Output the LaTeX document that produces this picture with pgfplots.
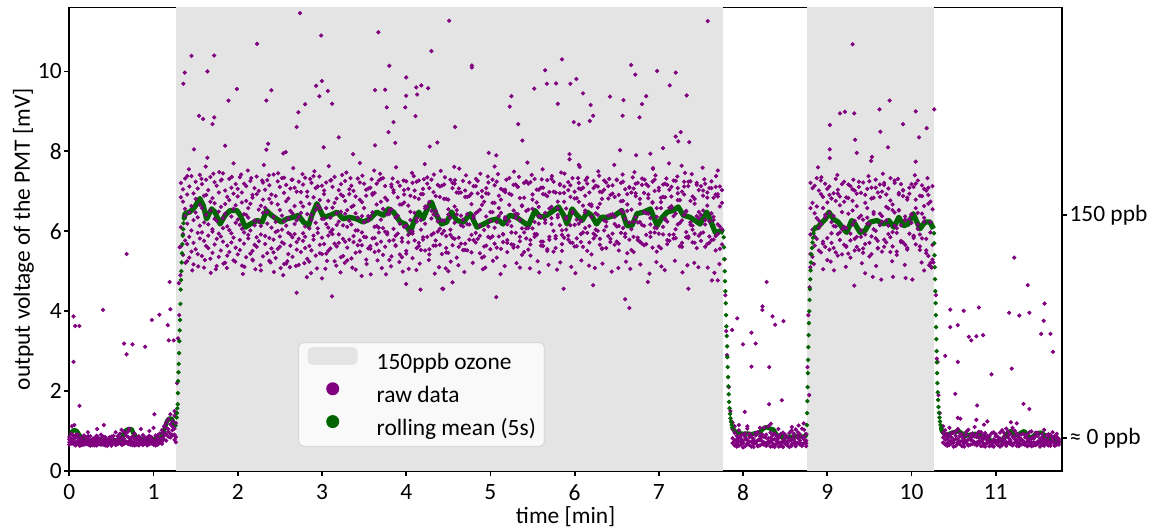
\documentclass[border=0pt]{standalone}
\usepackage{fontspec}
\setmainfont{Carlito}
\setsansfont{Carlito}
\usepackage{pgfplots}
\usepackage{pgfplotstable}
\pgfplotsset{compat=1.18}
\definecolor{rawcol}{RGB}{128,0,128}
\definecolor{meancol}{RGB}{0,100,0}
\definecolor{shadecol}{RGB}{228,228,228}
\newcommand{\chartfont}{\fontsize{11.7bp}{14bp}\selectfont}

\pgfplotstableread{
x a b c d
0.0 0.72 0.85 0.66 0.79
0.025 0.81 0.69 0.93 0.74
0.05 0.67 0.77 0.71 0.88
0.075 0.90 0.64 0.83 0.70
0.1 0.75 0.86 0.68 0.92
0.125 0.63 0.73 0.80 0.69
0.15 0.84 0.70 0.65 0.77
0.175 0.71 0.89 0.74 0.66
0.2 0.78 0.67 0.85 0.72
0.225 0.66 0.80 0.70 0.87
0.25 0.87 0.74 0.63 0.76
0.275 0.70 0.65 0.79 0.68
0.3 0.76 0.83 0.72 0.64
0.325 0.64 0.71 0.88 0.79
0.35 0.82 0.68 0.67 0.73
0.375 0.69 0.91 0.75 0.66
0.4 0.74 0.66 0.81 0.86
0.425 0.85 0.78 0.64 0.71
0.45 0.67 0.70 0.77 0.63
0.475 0.79 0.84 0.69 0.75
0.5 0.72 0.63 0.86 0.68
0.525 0.88 0.76 0.71 0.80
0.55 0.65 0.69 0.66 0.74
0.575 0.77 0.87 0.79 0.67
0.6 0.70 0.72 0.93 0.82
0.625 0.83 0.65 0.68 0.71
0.65 0.68 0.81 0.76 0.98
0.675 0.95 0.74 0.89 0.70
0.7 0.73 0.99 0.67 0.85
0.725 0.66 0.78 0.82 0.73
0.75 0.86 0.70 0.72 0.65
0.775 0.71 0.64 0.94 0.79
0.8 0.79 0.83 0.66 0.70
0.825 0.64 0.71 0.78 0.87
0.85 0.81 0.67 0.70 0.74
0.875 0.75 0.90 0.65 0.68
0.9 0.69 0.73 0.84 0.77
0.925 0.84 0.66 0.71 0.64
0.95 0.67 0.79 0.88 0.72
0.975 0.78 0.85 0.69 0.81
1.0 0.72 0.68 0.75 0.66
1.025 0.89 0.77 0.64 0.73
1.05 0.66 0.71 0.82 0.90
1.075 0.80 0.94 0.70 0.76
1.1 0.73 0.82 1.02 0.68
1.125 0.95 0.88 0.79 1.12
1.15 1.08 0.76 1.21 0.92
1.175 0.86 1.30 0.98 1.05
1.2 1.17 0.93 1.42 0.84
1.225 1.02 1.25 0.89 1.11
1.25 0.91 1.38 1.06 0.78
1.265 1.20 0.85 1.45 0.72
1.325 6.85 5.62 7.21 6.10
1.35 5.93 6.74 5.41 7.05
1.375 6.38 7.32 5.77 6.56
1.4 5.25 6.19 6.92 5.68
1.425 7.12 5.86 6.47 5.34
1.45 6.63 5.49 7.38 6.02
1.475 5.71 6.95 6.28 5.17
1.5 6.47 7.24 5.55 6.81
1.525 5.96 6.35 7.07 5.43
1.55 7.41 5.82 6.66 6.14
1.575 5.38 6.58 5.97 7.18
1.6 6.22 5.09 6.89 5.76
1.625 6.91 6.41 5.63 7.29
1.65 5.58 7.03 6.17 5.89
1.675 6.74 5.31 6.52 7.36
1.7 6.05 6.83 5.46 5.99
1.725 7.23 5.67 6.31 6.70
1.75 5.13 6.26 7.14 5.81
1.775 6.49 5.94 5.36 6.97
1.8 5.87 7.27 6.61 5.52
1.825 6.33 5.74 7.45 6.08
1.85 7.02 6.44 5.21 6.68
1.875 5.64 6.12 6.86 5.39
1.9 6.78 5.48 6.03 7.31
1.925 5.95 7.09 5.72 6.37
1.95 6.56 5.27 6.94 5.84
1.975 7.18 6.65 5.59 6.21
2.0 5.42 6.87 6.29 7.06
2.025 6.16 5.78 7.35 5.53
2.05 6.97 6.06 5.14 6.72
2.075 5.69 7.19 6.43 5.97
2.1 6.41 5.35 6.76 7.13
2.125 5.82 6.58 5.91 6.34
2.15 7.26 6.02 6.69 5.44
2.175 5.51 6.91 5.29 6.84
2.2 6.27 5.66 7.08 6.15
2.225 6.93 7.37 5.85 5.61
2.25 5.75 6.24 6.54 7.01
2.275 6.64 5.02 6.13 5.92
2.3 5.37 6.79 7.22 6.46
2.325 7.04 5.88 5.68 6.59
2.35 6.19 6.48 5.45 7.28
2.375 5.83 7.15 6.81 5.26
2.4 6.71 5.57 6.09 6.92
2.425 5.47 6.36 7.42 5.79
2.45 6.88 5.98 5.33 6.23
2.475 6.01 7.25 6.67 5.56
2.5 5.61 6.53 5.87 7.11
2.525 7.33 5.72 6.39 6.04
2.55 6.25 6.96 5.18 5.69
2.575 5.19 6.14 6.75 7.16
2.6 6.82 5.43 6.32 5.96
2.625 5.92 7.07 5.64 6.51
2.65 6.45 5.85 7.29 5.36
2.675 7.09 6.63 5.93 6.18
2.7 5.54 6.27 6.99 5.73
2.725 6.36 5.16 5.81 7.24
2.75 6.98 6.72 6.46 5.48
2.775 5.76 5.95 7.17 6.62
2.8 6.12 7.34 5.58 5.86
2.825 5.31 6.43 6.87 6.99
2.85 6.69 5.63 6.07 5.24
2.875 7.21 6.29 5.52 6.41
2.9 5.89 6.85 7.38 5.79
2.925 6.53 5.39 6.21 7.08
2.95 6.07 7.12 5.96 6.64
2.975 5.66 6.57 6.78 5.45
3.0 7.14 5.84 5.43 6.31
3.025 6.31 6.93 7.02 5.68
3.05 5.44 6.18 6.58 7.22
3.075 6.76 5.51 5.89 6.09
3.1 5.98 7.27 6.34 5.57
3.125 6.59 6.04 7.11 5.93
3.15 7.36 5.69 5.25 6.71
3.175 5.62 6.45 6.82 6.16
3.2 6.24 5.92 5.71 7.03
3.225 6.92 7.18 6.49 5.35
3.25 5.81 5.38 6.15 6.88
3.275 6.44 6.76 7.26 5.74
3.3 5.27 6.11 5.59 6.53
3.325 7.05 5.79 6.93 6.26
3.35 6.17 6.61 5.32 7.14
3.375 5.73 7.01 6.64 5.88
3.4 6.87 5.46 6.02 6.45
3.425 6.02 6.34 7.32 5.65
3.45 5.49 7.22 5.77 6.79
3.475 6.73 5.65 6.38 5.97
3.5 7.19 6.23 5.86 6.58
3.525 5.85 6.89 7.04 5.29
3.55 6.38 5.57 6.27 7.07
3.575 5.56 7.09 5.63 6.37
3.6 6.95 6.47 6.91 5.82
3.625 6.11 5.83 5.48 6.96
3.65 5.68 6.67 7.19 6.13
3.675 7.27 5.97 6.09 5.51
3.7 6.29 7.31 5.74 6.74
3.725 5.41 6.08 6.56 7.33
3.75 6.84 5.61 7.13 5.99
3.775 5.97 6.78 5.92 6.42
3.8 6.52 5.28 6.43 5.76
3.825 7.11 6.55 5.37 7.17
3.85 5.78 7.03 6.97 6.06
3.875 6.34 5.89 5.65 5.63
3.9 5.94 6.39 7.23 6.85
3.925 6.67 7.14 6.19 5.42
3.95 5.35 5.74 5.83 6.67
3.975 7.03 6.92 6.72 6.11
4.0 6.14 5.44 5.51 7.25
4.025 5.72 6.64 7.06 5.91
4.05 6.89 6.01 6.28 6.49
4.075 5.99 7.21 5.94 5.33
4.1 6.46 5.77 6.85 7.02
4.125 7.24 6.32 5.58 6.24
4.15 5.63 6.81 7.27 5.71
4.175 6.28 5.53 6.04 6.93
4.2 6.93 7.06 5.79 5.85
4.225 5.52 6.19 6.62 6.57
4.25 6.61 5.86 7.35 7.19
4.275 7.08 6.73 5.42 5.55
4.3 5.91 7.29 6.51 6.32
4.325 6.42 5.64 5.95 6.98
4.35 5.77 6.51 6.88 5.64
4.375 7.16 5.99 6.25 6.39
4.4 6.06 6.86 5.66 7.12
4.425 5.43 6.27 7.14 5.94
4.45 6.81 7.17 6.01 6.27
4.475 5.88 5.58 5.47 6.81
4.5 6.55 6.42 6.79 5.46
4.525 7.29 5.91 6.33 6.04
4.55 5.65 7.08 5.84 7.21
4.575 6.21 6.62 7.19 5.81
4.6 6.97 5.34 6.42 6.53
4.625 5.84 6.96 5.61 7.07
4.65 6.39 6.15 6.97 5.69
4.675 5.53 7.26 6.12 6.29
4.7 7.02 5.69 5.53 6.86
4.725 6.18 6.43 6.86 5.52
4.75 5.79 6.88 7.22 6.17
4.775 6.68 5.47 5.91 6.94
4.8 7.13 6.33 6.38 5.78
4.825 5.96 7.13 5.72 6.45
4.85 6.49 5.81 6.95 7.26
4.875 5.45 6.54 6.14 5.89
4.9 6.86 7.01 5.34 6.66
4.925 6.03 5.62 6.74 5.37
4.95 5.64 6.37 7.08 6.95
4.975 7.22 6.94 5.86 6.12
5.0 6.26 5.55 6.48 5.83
5.025 5.87 6.71 7.29 6.48
5.05 6.71 6.09 5.69 7.15
5.075 5.34 7.24 6.23 5.59
5.1 6.58 5.87 6.89 6.38
5.125 7.06 6.46 5.56 6.79
5.15 5.93 5.73 7.03 5.92
5.175 6.35 6.98 6.31 7.04
5.2 5.71 6.17 5.78 5.48
5.225 6.94 7.33 6.66 6.25
5.25 6.13 5.67 5.97 6.91
5.275 5.59 6.52 7.16 5.66
5.3 7.17 5.96 6.44 6.34
5.325 6.43 7.11 5.61 7.11
5.35 5.86 6.28 6.83 5.75
5.375 6.65 5.41 6.07 6.63
5.4 5.48 6.84 7.21 5.97
5.425 7.25 6.07 5.82 6.51
5.45 6.08 7.19 6.54 5.54
5.475 5.67 5.78 5.39 7.23
5.5 6.79 6.56 6.92 6.07
5.525 6.23 5.93 7.31 5.86
5.55 5.91 7.04 5.93 6.72
5.575 7.04 6.38 6.61 6.19
5.6 6.37 5.64 5.74 7.09
5.625 5.74 6.93 7.09 5.63
5.65 6.92 6.21 6.29 6.46
5.675 5.55 7.28 5.51 6.88
5.7 6.57 5.86 6.98 5.79
5.725 7.31 6.61 6.18 6.33
5.75 6.01 5.49 7.24 6.99
5.775 5.82 6.97 5.88 5.58
5.8 6.74 6.35 6.57 6.41
5.825 6.15 7.16 6.95 7.18
5.85 5.51 5.91 5.68 6.02
5.875 6.96 6.74 7.12 5.84
5.9 6.31 6.04 6.35 6.57
5.925 5.89 7.23 5.79 7.03
5.95 7.15 5.72 6.86 6.15
5.975 6.46 6.49 7.33 5.71
6.0 5.62 6.99 6.16 6.82
6.025 6.83 5.82 5.63 6.29
6.05 6.19 7.07 6.74 7.21
6.075 5.73 6.26 7.05 5.93
6.1 7.09 5.61 5.97 6.64
6.125 6.52 6.89 6.47 6.08
6.15 5.96 7.34 7.19 5.51
6.175 6.67 6.13 5.72 6.97
6.2 5.42 6.67 6.63 6.36
6.225 7.26 5.94 7.08 5.82
6.25 6.04 6.45 5.89 7.14
6.275 6.59 7.12 6.41 6.01
6.3 5.81 5.66 6.99 6.69
6.325 6.98 6.81 5.56 5.57
6.35 6.27 6.02 7.27 7.04
6.375 5.58 7.22 6.12 6.24
6.4 7.13 6.39 6.82 5.88
6.425 6.41 5.73 5.81 6.91
6.45 5.94 6.94 7.15 6.43
6.475 6.86 6.18 6.36 5.66
6.5 6.12 7.29 5.74 7.28
6.525 5.69 5.52 6.91 6.13
6.55 7.21 6.75 6.53 5.96
6.575 6.47 6.08 7.24 6.76
6.6 5.86 7.05 5.94 6.31
6.625 6.93 6.51 6.67 5.45
6.65 6.22 5.79 7.11 7.09
6.675 5.53 6.97 6.05 6.54
6.7 7.07 6.24 5.48 5.86
6.725 6.35 7.19 6.88 6.95
6.75 5.78 5.84 7.21 6.22
6.775 6.81 6.69 6.23 5.74
6.8 6.16 7.32 5.69 7.16
6.825 5.65 6.14 6.96 6.48
6.85 7.18 5.68 6.45 5.91
6.875 6.44 6.92 7.13 6.83
6.9 5.97 6.33 5.86 6.17
6.925 6.73 7.24 6.71 5.59
6.95 6.09 5.97 7.29 7.01
6.975 5.49 6.58 6.08 6.36
7.0 7.02 7.09 5.62 5.94
7.025 6.58 5.57 6.84 6.73
7.05 5.92 6.86 7.17 6.11
7.075 6.85 6.29 6.32 7.19
7.1 6.24 7.16 5.78 5.68
7.125 5.76 5.91 7.04 6.59
7.15 7.11 6.63 6.59 6.87
7.175 6.38 7.27 5.92 5.82
7.2 5.83 6.05 7.26 6.44
7.225 6.95 6.78 6.17 7.08
7.25 6.21 5.62 6.78 5.63
7.275 5.61 6.99 5.71 6.27
7.3 7.24 6.41 7.12 6.92
7.325 6.51 5.85 6.49 5.98
7.35 5.87 7.13 5.83 7.24
7.375 6.76 6.22 7.25 6.16
7.4 6.14 6.87 6.04 5.72
7.425 5.71 5.94 6.69 6.81
7.45 7.16 7.21 5.58 6.38
7.475 6.33 6.48 7.03 5.89
7.5 5.95 5.76 6.41 7.13
7.525 6.89 7.02 5.97 6.52
7.55 6.28 6.17 7.19 5.61
7.575 5.68 6.84 6.64 6.97
7.6 7.08 5.71 5.87 6.25
7.625 6.45 7.25 7.08 5.78
7.65 5.79 6.36 6.28 6.84
7.675 6.92 5.88 5.52 7.11
7.7 6.17 6.93 6.87 5.93
7.725 5.56 7.12 6.12 6.62
7.75 6.71 6.05 5.67 7.03
7.875 1.05 0.82 1.21 0.70
7.9 0.76 0.95 0.64 1.12
7.925 0.88 0.69 0.79 0.61
7.95 0.63 0.83 1.02 0.74
7.975 0.81 0.72 0.66 0.90
8.0 0.70 0.91 0.76 0.59
8.025 0.94 0.62 0.85 0.79
8.05 0.67 0.78 0.69 1.06
8.075 0.85 0.65 0.93 0.73
8.1 0.73 0.88 0.61 0.84
8.125 0.60 0.76 0.80 0.68
8.15 0.89 0.70 0.72 0.95
8.175 0.77 0.97 0.64 0.62
8.2 0.64 0.81 0.87 0.77
8.225 0.92 0.67 0.75 0.86
8.25 0.71 0.85 1.09 0.66
8.275 0.83 0.63 0.70 0.91
8.3 0.68 1.12 0.82 0.74
8.325 0.96 0.74 0.61 0.83
8.35 0.62 0.89 0.78 0.69
8.375 0.80 0.66 0.94 0.60
8.4 0.74 0.79 0.68 0.87
8.425 0.87 0.61 0.83 0.72
8.45 0.65 0.93 0.71 0.63
8.475 0.78 0.72 0.60 0.96
8.5 0.91 0.68 0.86 0.75
8.525 0.69 0.84 0.74 0.64
8.55 0.76 0.60 0.95 0.81
8.575 0.63 0.77 0.67 1.01
8.6 0.86 0.94 0.79 0.70
8.625 0.72 0.65 1.04 0.62
8.65 0.97 0.82 0.70 0.88
8.675 0.66 0.71 0.92 0.76
8.7 0.84 1.06 0.63 0.67
8.725 0.70 0.79 0.85 1.03
8.75 0.93 0.62 0.76 0.69
8.8 5.92 6.58 7.21 5.43
8.825 6.71 5.36 6.04 7.08
8.85 5.64 7.14 6.45 5.87
8.875 6.33 5.81 7.33 6.62
8.9 7.02 6.27 5.52 6.09
8.925 5.47 6.93 6.18 7.27
8.95 6.58 5.69 6.86 5.74
8.975 7.19 6.41 5.61 6.35
9.0 5.83 7.06 6.72 5.28
9.025 6.46 5.54 7.12 6.91
9.05 5.71 6.82 5.95 6.23
9.075 6.95 6.13 6.38 5.58
9.1 6.12 7.31 5.47 6.76
9.125 5.39 5.93 6.94 7.04
9.15 6.87 6.65 5.78 5.97
9.175 6.05 5.42 7.18 6.48
9.2 7.24 6.74 6.11 5.66
9.225 5.61 6.08 5.63 6.85
9.25 6.44 7.17 6.83 5.44
9.275 5.94 5.77 5.34 7.13
9.3 6.76 6.52 7.05 6.17
9.325 5.52 7.02 6.26 5.81
9.35 6.63 5.61 5.86 6.94
9.375 7.11 6.34 7.24 5.53
9.4 5.86 6.96 6.02 6.39
9.425 6.29 5.46 5.57 7.22
9.45 5.68 6.71 6.91 5.92
9.475 7.06 6.19 6.34 6.58
9.5 6.19 7.25 5.71 5.37
9.525 5.43 5.87 7.09 6.82
9.55 6.84 6.43 6.48 6.05
9.575 6.01 7.09 5.82 7.29
9.6 5.57 5.58 6.97 5.76
9.625 7.17 6.86 6.15 6.44
9.65 6.38 6.24 5.49 6.99
9.675 5.79 7.21 7.16 5.61
9.7 6.92 5.72 6.61 6.27
9.725 6.14 6.57 5.93 7.07
9.75 5.48 7.33 6.77 5.85
9.775 6.67 5.98 5.62 6.53
9.8 7.21 6.47 7.27 6.14
9.825 5.96 5.41 6.08 5.49
9.85 6.53 6.92 6.52 6.96
9.875 5.73 6.15 5.76 7.18
9.9 6.88 7.03 7.02 5.72
9.925 6.27 5.66 6.29 6.37
9.95 5.54 6.79 5.58 6.84
9.975 7.09 6.31 6.94 5.94
10.0 6.42 7.18 6.43 6.21
10.025 5.89 5.83 5.87 7.11
10.05 6.79 6.58 7.19 5.67
10.075 6.06 7.27 6.17 6.46
10.1 5.62 5.92 5.53 6.89
10.125 7.15 6.44 6.88 5.82
10.15 6.34 7.06 6.24 6.63
10.175 5.81 5.52 5.45 7.02
10.2 6.91 6.69 7.09 5.38
10.225 6.23 5.97 5.21 6.74
10.25 5.66 7.13 6.55 5.29
10.375 1.12 0.84 0.95 0.71
10.4 0.78 1.02 0.66 0.89
10.425 0.93 0.70 0.82 0.63
10.45 0.65 0.87 1.08 0.76
10.475 0.84 0.74 0.69 0.95
10.5 0.71 0.96 0.78 0.61
10.525 0.99 0.63 0.88 0.80
10.55 0.68 0.80 0.72 1.05
10.575 0.87 0.67 0.94 0.74
10.6 0.75 0.91 0.62 0.85
10.625 0.61 0.77 0.81 0.69
10.65 0.90 0.71 0.73 0.98
10.675 0.79 1.03 0.65 0.64
10.7 0.66 0.83 0.89 0.78
10.725 0.94 0.68 0.76 0.87
10.75 0.72 0.86 1.10 0.67
10.775 0.85 0.64 0.71 0.92
10.8 0.69 0.98 0.84 0.75
10.825 0.97 0.75 0.62 0.84
10.85 0.63 0.90 0.79 0.70
10.875 0.82 0.67 0.95 0.61
10.9 0.75 0.81 0.69 0.88
10.925 0.88 0.62 0.85 0.73
10.95 0.66 0.94 0.72 0.64
10.975 0.79 0.73 0.61 0.97
11.0 0.92 0.69 0.87 0.76
11.025 0.70 0.85 0.75 0.65
11.05 0.77 0.61 0.96 0.82
11.075 0.64 0.78 0.68 1.02
11.1 0.87 0.95 0.80 0.71
11.125 0.73 0.66 1.06 0.63
11.15 0.98 0.83 0.71 0.89
11.175 0.67 0.72 0.93 0.77
11.2 0.85 1.08 0.64 0.68
11.225 0.71 0.80 0.86 1.01
11.25 0.94 0.63 0.77 0.70
11.275 0.62 0.89 0.70 0.83
11.3 0.80 0.76 0.91 0.66
11.325 0.76 0.93 0.67 0.74
11.35 0.69 0.65 0.84 0.90
11.375 0.91 0.82 0.74 0.62
11.4 0.65 0.71 0.97 0.79
11.425 0.83 0.99 0.62 0.72
11.45 0.72 0.64 0.81 0.86
11.475 0.96 0.87 0.70 0.65
11.5 0.68 0.74 0.88 0.95
11.525 0.81 0.61 0.76 0.71
11.55 0.74 0.92 0.65 0.84
11.575 0.63 0.79 1.03 0.68
11.6 0.89 0.68 0.73 0.77
11.625 0.75 0.86 0.64 0.92
11.65 0.67 0.72 0.90 0.63
11.675 0.84 0.97 0.78 0.74
11.7 0.71 0.63 0.69 0.87
11.725 0.93 0.80 0.85 0.66
11.75 0.66 0.75 0.71 0.80
}\rawband

\pgfplotstableread{
x y
0.05 3.87
0.07 3.63
0.12 3.63
0.05 2.73
0.12 1.63
0.40 4.03
0.68 5.43
0.65 3.19
0.75 3.17
0.68 2.92
0.90 3.11
0.98 3.78
1.07 3.91
1.01 1.42
1.17 3.65
1.20 4.05
1.19 4.73
1.24 3.27
1.18 3.27
1.29 3.32
1.25 1.50
0.03 1.12
0.06 1.15
0.22 0.97
0.33 1.05
0.41 1.15
0.55 0.97
0.62 1.03
0.71 1.06
0.85 1.05
0.95 1.00
1.00 1.08
1.28 2.20
1.30 4.70
1.31 5.60
1.32 4.90
1.305 3.90
1.354 9.69
1.37 9.97
1.45 10.39
1.64 10.00
1.72 10.40
1.54 8.89
1.59 8.81
1.70 8.68
1.72 8.85
1.48 8.05
1.64 7.84
1.85 8.14
1.89 9.27
1.99 9.56
2.23 10.69
2.34 9.27
2.40 9.53
2.36 8.19
2.34 8.04
2.54 7.95
2.57 7.98
2.72 8.98
2.70 8.61
2.74 11.46
2.80 9.18
2.93 9.64
2.97 9.38
3.00 9.76
2.99 10.90
3.07 9.51
3.12 9.19
3.02 8.10
3.20 8.35
3.37 7.93
3.67 10.98
3.63 9.53
3.75 9.54
3.77 9.10
3.80 10.14
3.85 8.73
3.79 8.48
3.63 8.15
3.87 8.21
4.00 9.85
4.00 9.39
3.99 9.10
4.11 8.88
4.12 9.60
4.13 9.42
4.18 9.65
4.26 9.58
4.30 10.51
4.28 8.12
4.37 8.22
4.58 8.61
4.51 11.27
4.57 7.61
4.78 10.15
4.78 10.10
4.98 7.96
5.07 7.90
5.25 9.38
5.23 9.12
5.33 8.68
5.38 8.27
5.52 9.57
5.65 10.03
5.67 9.69
5.78 9.70
5.80 9.19
5.85 10.30
5.95 9.69
6.02 9.81
6.10 9.45
5.99 8.73
6.05 8.67
6.19 9.16
6.22 8.89
6.18 8.76
5.94 7.93
5.94 7.80
6.05 7.66
6.42 9.37
6.58 9.28
6.57 8.89
6.67 10.16
6.72 9.92
6.77 8.85
6.80 9.18
6.85 9.38
6.54 8.03
6.73 7.90
6.90 7.94
6.98 10.01
7.05 8.08
7.13 9.65
7.20 9.97
7.20 8.37
7.23 8.25
7.26 8.48
7.36 8.23
7.33 9.40
7.27 7.64
7.58 11.26
6.93 7.58
2.70 4.46
3.12 4.37
2.54 4.90
2.82 4.85
3.00 4.82
3.47 4.88
3.76 4.92
4.00 4.68
4.17 4.54
4.55 4.72
4.43 4.56
4.50 5.00
6.60 4.30
6.65 4.08
5.07 4.35
5.87 4.56
6.22 4.65
7.35 4.56
7.63 4.77
7.70 4.77
6.87 4.73
4.44 4.56
1.42 7.55
1.62 7.62
1.78 7.48
1.95 7.70
2.12 7.52
2.31 7.66
2.48 7.45
2.66 7.58
2.91 7.50
3.08 7.63
3.29 7.47
3.45 7.71
3.62 7.52
3.88 7.60
4.07 7.46
4.22 7.68
4.41 7.51
4.63 7.57
4.88 7.44
5.05 7.62
5.28 7.49
5.44 7.72
5.62 7.55
5.84 7.47
6.06 7.61
6.28 7.50
6.47 7.66
6.71 7.48
6.93 7.56
7.12 7.70
7.31 7.46
7.52 7.59
7.70 7.52
1.46 5.02
1.68 4.96
1.87 5.08
2.06 4.93
2.21 5.05
2.43 4.98
2.62 5.10
2.87 4.95
3.04 5.06
3.22 4.97
3.40 5.04
3.58 4.92
3.71 5.08
3.96 4.99
4.12 5.03
4.34 4.94
4.47 5.07
4.69 4.98
4.91 5.05
5.12 4.93
5.35 5.09
5.58 4.97
5.79 5.04
6.01 4.95
6.24 5.08
6.44 4.99
6.66 5.06
6.89 4.94
7.07 5.03
7.28 4.97
7.47 5.10
7.66 4.96
1.38 5.21
1.53 5.12
1.61 5.28
1.74 5.05
1.83 5.19
1.97 5.24
2.08 5.11
2.18 5.27
2.27 5.15
2.39 5.22
2.51 5.08
2.59 5.25
2.69 5.13
2.79 5.20
2.94 5.07
3.06 5.26
3.17 5.14
3.27 5.21
3.36 5.09
3.53 5.18
3.66 5.27
3.82 5.12
3.92 5.23
4.03 5.06
4.16 5.19
4.27 5.28
4.39 5.10
4.53 5.24
4.62 5.15
4.79 5.21
4.94 5.09
5.03 5.26
5.17 5.13
5.31 5.20
5.47 5.07
5.56 5.25
5.69 5.16
5.83 5.22
5.96 5.11
6.08 5.27
6.17 5.14
6.33 5.19
6.52 5.08
6.61 5.24
6.78 5.17
6.97 5.23
7.03 5.12
7.19 5.26
7.34 5.15
7.42 5.21
7.58 5.09
7.72 5.18
1.40 7.38
1.57 7.31
1.71 7.44
1.81 7.29
1.93 7.36
2.04 7.42
2.16 7.33
2.29 7.27
2.37 7.40
2.55 7.34
2.64 7.29
2.77 7.43
2.86 7.31
2.97 7.37
3.11 7.28
3.24 7.41
3.34 7.33
3.48 7.39
3.59 7.30
3.69 7.44
3.84 7.32
3.97 7.27
4.09 7.38
4.21 7.30
4.33 7.42
4.46 7.35
4.58 7.28
4.71 7.40
4.83 7.31
4.97 7.37
5.09 7.43
5.19 7.29
5.34 7.36
5.49 7.41
5.61 7.30
5.73 7.38
5.88 7.44
6.04 7.33
6.13 7.28
6.29 7.39
6.41 7.31
6.57 7.42
6.69 7.35
6.83 7.29
6.96 7.40
7.09 7.32
7.22 7.37
7.39 7.43
7.54 7.30
7.68 7.38
7.78 5.30
7.79 4.40
7.80 3.50
7.81 2.90
7.83 2.10
7.85 1.50
7.86 1.25
7.93 3.82
8.28 4.73
8.23 4.12
8.23 4.03
8.35 3.87
8.38 3.66
8.48 3.75
8.10 3.46
8.00 3.17
8.15 3.19
7.87 3.53
8.10 2.61
8.31 2.60
8.46 1.77
8.31 1.67
8.02 1.48
7.95 1.15
8.05 1.12
8.20 1.08
8.33 1.18
8.42 1.05
8.58 1.10
8.66 1.14
8.72 1.19
8.765 2.60
8.775 3.90
8.79 4.60
8.80 5.10
8.785 1.90
9.30 10.68
9.74 9.27
9.62 9.05
9.15 8.95
9.21 8.99
9.32 8.95
10.05 9.00
10.27 9.05
9.03 8.66
9.90 8.68
9.63 8.49
10.18 8.58
9.33 8.29
10.09 8.35
9.72 8.10
9.03 8.05
9.35 7.96
9.03 7.83
9.53 7.86
8.89 7.60
10.05 7.74
9.52 7.76
9.32 4.64
9.64 4.79
10.01 4.79
9.93 4.83
9.08 5.02
9.78 4.86
9.54 4.86
10.24 5.09
8.95 5.05
9.45 4.95
10.15 5.02
10.21 5.15
10.26 5.22
8.84 5.18
8.93 7.35
9.04 5.24
9.12 7.41
9.22 5.11
9.31 7.29
9.41 5.20
9.49 7.38
9.58 5.13
9.66 7.44
9.77 5.25
9.84 7.31
9.92 5.16
10.04 7.40
10.12 5.22
10.19 7.33
10.23 5.12
10.29 4.40
10.30 2.81
10.31 2.73
10.32 1.90
10.335 1.45
11.22 5.34
11.38 4.65
11.58 4.19
11.57 3.76
11.54 3.43
11.65 3.43
11.68 2.98
11.16 3.96
11.28 3.89
11.40 3.96
10.46 4.04
10.62 4.01
10.80 4.09
10.46 3.60
10.55 3.65
10.68 3.36
10.71 3.27
10.77 3.37
10.85 3.40
10.40 2.88
10.55 2.73
11.19 2.56
10.95 2.42
10.52 1.93
10.78 1.64
11.33 1.68
11.40 1.55
10.55 1.33
10.58 1.31
10.77 1.28
10.90 1.24
10.86 1.16
11.18 1.22
11.25 1.19
}\rawout

\begin{document}
\begin{tikzpicture}
\useasboundingbox (-34.65bp,-28.5bp) rectangle (544.35bp,235.5bp);
\begin{axis}[
  scale only axis, width=496.35bp, height=231.75bp,
  xmin=0, xmax=11.787, ymin=0, ymax=11.6,
  xtick={0,1,...,11}, ytick={0,2,...,10},
  tick pos=left, tick align=outside,
  major tick length=2.6bp,
  tick style={black, line width=0.9bp},
  axis line style={black, line width=0.9bp},
  font=\chartfont,
  ticklabel style={font=\chartfont},
  /pgf/number format/assume math mode=true,
  xticklabel style={inner sep=1bp, yshift=-3bp},
  yticklabel style={inner sep=1bp},
  xlabel={time [min]},
  ylabel={output voltage of the PMT [mV]},
  xlabel style={at={(axis description cs:0.5,-0.1122)}, anchor=base},
  ylabel style={at={(axis description cs:-0.0463,0.5)}, anchor=center},
  legend cell align=left,
  legend style={at={(0.2303,0.0518)}, anchor=south west,
    draw=black!15, line width=0.6bp, fill=white, fill opacity=0.8, text opacity=1,
    rounded corners=2.5bp, inner xsep=4.3bp, inner ysep=2.25bp,
    row sep=3bp, column sep=9.2bp, font=\chartfont,
    nodes={inner sep=0pt, text height=9.2bp, text depth=3.3bp}},
]
\addplot[fill=shadecol, draw=none, forget plot] coordinates {(1.267,-1) (7.766,-1) (7.766,13) (1.267,13)} -- cycle;
\addplot[fill=shadecol, draw=none, forget plot] coordinates {(8.759,-1) (10.272,-1) (10.272,13) (8.759,13)} -- cycle;

\addplot[only marks, mark=*, mark size=0.85bp, color=rawcol, mark options={draw=none}, forget plot] table[x=x,y=a]{\rawband};
\addplot[only marks, mark=*, mark size=0.85bp, color=rawcol, mark options={draw=none}, forget plot] table[x=x,y=b]{\rawband};
\addplot[only marks, mark=*, mark size=0.85bp, color=rawcol, mark options={draw=none}, forget plot] table[x=x,y=c]{\rawband};
\addplot[only marks, mark=*, mark size=0.85bp, color=rawcol, mark options={draw=none}, forget plot] table[x=x,y=d]{\rawband};
\addplot[only marks, mark=*, mark size=0.85bp, color=rawcol, mark options={draw=none}, forget plot] table[x=x,y=y]{\rawout};

% rolling mean: stable stretches
\addplot[meancol, line width=2.2bp, line join=round, forget plot] coordinates {
(0.00,0.92) (0.03,0.98) (0.06,1.03) (0.09,1.00) (0.12,0.90) (0.16,0.80) (0.22,0.76) (0.30,0.75) (0.36,0.78) (0.40,0.80) (0.45,0.76) (0.50,0.75) (0.56,0.77) (0.62,0.80) (0.65,0.98) (0.69,1.04) (0.74,1.05) (0.77,0.90) (0.82,0.82) (0.88,0.80) (0.94,0.79) (1.00,0.80) (1.05,0.82) (1.10,0.85) (1.13,1.05) (1.16,1.25) (1.19,1.32) (1.22,1.30) (1.25,1.15) (1.27,1.10)};
\addplot[meancol, line width=2.6bp, line join=round, forget plot] coordinates {
(1.362,6.31) (1.374,6.44) (1.43,6.48) (1.49,6.61) (1.55,6.82) (1.59,6.65) (1.63,6.31) (1.69,6.56) (1.73,6.48) (1.79,6.18) (1.85,6.40) (1.91,6.52) (1.99,6.52) (2.03,6.40) (2.09,6.10) (2.15,6.18) (2.23,6.27) (2.29,6.23) (2.34,6.52) (2.40,6.40) (2.46,6.31) (2.52,6.23) (2.58,6.31) (2.66,6.35) (2.72,6.40) (2.78,6.23) (2.84,6.14) (2.88,6.40) (2.94,6.69) (2.98,6.52) (3.02,6.35) (3.10,6.40) (3.18,6.48) (3.25,6.31) (3.33,6.35) (3.41,6.31) (3.49,6.23) (3.57,6.31) (3.65,6.48) (3.73,6.40) (3.79,6.56) (3.85,6.48) (3.93,6.23) (3.99,6.18) (4.05,5.97) (4.09,6.23) (4.15,6.48) (4.20,6.31) (4.26,6.61) (4.30,6.73) (4.36,6.40) (4.42,6.18) (4.48,6.23) (4.54,6.48) (4.60,6.27) (4.68,6.23) (4.76,6.44) (4.84,6.10) (4.92,6.18) (5.00,6.27) (5.08,6.31) (5.15,6.18) (5.23,6.40) (5.31,6.35) (5.39,6.23) (5.45,6.14) (5.53,6.52) (5.59,6.35) (5.67,6.40) (5.75,6.52) (5.81,6.61) (5.87,6.40) (5.91,6.18) (5.97,6.56) (6.03,6.40) (6.09,6.27) (6.15,6.48) (6.20,6.40) (6.26,6.18) (6.32,6.35) (6.40,6.35) (6.48,6.40) (6.56,6.52) (6.62,6.14) (6.68,6.14) (6.74,6.44) (6.82,6.48) (6.90,6.56) (6.98,6.14) (7.04,6.35) (7.10,6.48) (7.17,6.52) (7.23,6.61) (7.29,6.40) (7.37,6.35) (7.43,6.27) (7.49,6.18) (7.57,6.48) (7.63,6.18) (7.67,5.97) (7.73,6.01) (7.77,5.97)};
\addplot[meancol, line width=2.2bp, line join=round, forget plot] coordinates {
(7.872,1.09) (7.90,1.00) (7.95,0.95) (8.00,0.93) (8.05,0.94) (8.10,0.92) (8.15,0.95) (8.20,0.97) (8.24,1.06) (8.28,1.10) (8.32,1.06) (8.36,1.04) (8.40,0.90) (8.45,0.85) (8.50,0.84) (8.55,0.86) (8.60,0.85) (8.65,0.88) (8.70,0.86) (8.74,0.87) (8.755,0.95)};
\addplot[meancol, line width=2.6bp, line join=round, forget plot] coordinates {
(8.853,6.10) (8.88,6.08) (8.92,6.18) (8.98,6.31) (9.02,6.48) (9.07,6.31) (9.13,6.23) (9.19,6.06) (9.23,5.97) (9.29,6.27) (9.33,6.18) (9.39,5.97) (9.45,6.02) (9.51,6.23) (9.59,6.27) (9.67,6.18) (9.73,6.27) (9.79,6.10) (9.85,6.35) (9.91,6.14) (9.96,6.18) (10.02,6.44) (10.10,6.06) (10.16,6.23) (10.22,6.23) (10.26,6.06)};
\addplot[meancol, line width=2.2bp, line join=round, forget plot] coordinates {
(10.352,1.08) (10.36,1.00) (10.40,0.90) (10.44,0.92) (10.48,0.96) (10.52,0.98) (10.56,1.00) (10.60,0.94) (10.64,0.88) (10.68,0.90) (10.72,0.92) (10.76,0.93) (10.80,0.90) (10.84,0.86) (10.88,0.83) (10.92,0.78) (10.96,0.75) (11.00,0.74) (11.05,0.76) (11.10,0.82) (11.15,0.98) (11.18,1.00) (11.22,0.88) (11.26,0.90) (11.30,0.96) (11.34,1.00) (11.38,0.88) (11.42,0.83) (11.46,0.90) (11.50,0.95) (11.54,0.96) (11.58,0.90) (11.62,0.84) (11.66,0.80) (11.70,0.76) (11.75,0.75)};
% rolling mean: transitions (separate dots)
\addplot[only marks, mark=*, mark size=0.9bp, color=meancol, mark options={draw=none}, forget plot] coordinates {
(1.275,1.34) (1.279,1.45) (1.283,1.57) (1.287,1.67) (1.290,1.95) (1.293,2.25) (1.296,2.47) (1.299,2.68) (1.303,2.95) (1.307,3.25) (1.311,3.52) (1.315,3.78) (1.319,4.18) (1.323,4.54) (1.327,4.78) (1.331,5.00) (1.335,5.22) (1.339,5.45) (1.343,5.68) (1.347,5.89) (1.352,6.05) (1.357,6.20) (1.362,6.31)
(7.770,5.85) (7.774,5.60) (7.778,5.30) (7.782,5.00) (7.786,4.75) (7.790,4.50) (7.794,4.20) (7.798,3.90) (7.802,3.62) (7.806,3.38) (7.810,3.12) (7.814,2.85) (7.818,2.60) (7.822,2.35) (7.826,2.12) (7.830,1.92) (7.835,1.73) (7.840,1.57) (7.846,1.43) (7.852,1.32) (7.858,1.23) (7.865,1.15) (7.872,1.09)
(8.758,1.15) (8.761,1.45) (8.764,1.75) (8.767,2.10) (8.770,2.45) (8.773,2.78) (8.776,3.10) (8.779,3.40) (8.782,3.70) (8.786,4.00) (8.790,4.28) (8.794,4.55) (8.798,4.80) (8.802,5.02) (8.807,5.22) (8.812,5.42) (8.818,5.58) (8.824,5.72) (8.830,5.84) (8.837,5.95) (8.845,6.03) (8.853,6.10)
(10.268,5.95) (10.271,5.70) (10.274,5.40) (10.277,5.10) (10.280,4.80) (10.283,4.50) (10.286,4.20) (10.289,3.90) (10.292,3.60) (10.295,3.30) (10.298,3.00) (10.301,2.72) (10.304,2.45) (10.308,2.20) (10.312,1.97) (10.316,1.78) (10.321,1.60) (10.326,1.46) (10.332,1.34) (10.338,1.24) (10.345,1.15) (10.352,1.08)};

\addlegendimage{legend image code/.code={\fill[shadecol, draw=none, fill opacity=1] (0bp,-0.6bp) rectangle (25bp,8.4bp);}}
\addlegendentry{150ppb ozone}
\addlegendimage{legend image code/.code={\path (0bp,0bp) (25bp,0bp); \fill[rawcol, draw=none, fill opacity=1] (12.5bp,3.9bp) circle (3.25bp);}}
\addlegendentry{raw data}
\addlegendimage{legend image code/.code={\path (0bp,0bp) (25bp,0bp); \fill[meancol, draw=none, fill opacity=1] (12.5bp,3.9bp) circle (3.25bp);}}
\addlegendentry{rolling mean (5s)}
\end{axis}
\begin{axis}[
  scale only axis, width=496.35bp, height=231.75bp,
  xmin=0, xmax=11.787, ymin=0, ymax=11.6,
  axis x line=none, axis y line*=right,
  ytick={0.83,6.4}, yticklabels={≈ 0 ppb,150 ppb},
  tick align=outside, major tick length=2.6bp,
  tick style={black, line width=0.9bp},
  axis line style={black, line width=0.9bp},
  ticklabel style={font=\chartfont},
  yticklabel style={inner sep=1bp},
]
\addplot[draw=none, forget plot] coordinates {(0,0)};
\end{axis}
\end{tikzpicture}
\end{document}
